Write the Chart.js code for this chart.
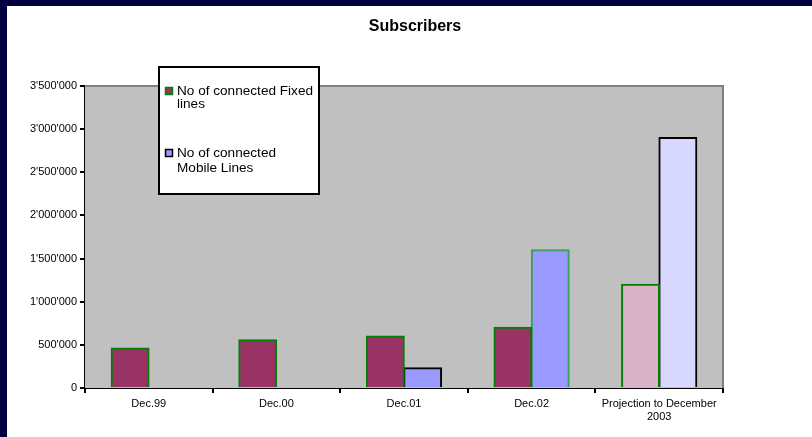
<!DOCTYPE html>
<html>
<head>
<meta charset="utf-8">
<script src="https://cdn.jsdelivr.net/npm/chart.js@4/dist/chart.umd.min.js"></script>
<style>
  html, body { margin: 0; padding: 0; background: #000040; width: 812px; height: 437px; overflow: hidden; }
  #wrap { position: absolute; left: 7px; top: 6px; width: 805px; height: 431px; background: #ffffff; }
</style>
</head>
<body>
<div id="wrap"><canvas id="c" width="805" height="431"></canvas></div>
<script>
const categories = ['Dec.99', 'Dec.00', 'Dec.01', 'Dec.02', ['Projection to December', '2003']];
const fixedLines = [460000, 555000, 600000, 700000, 1200000];
const mobileLines = [null, null, 230000, 1600000, 2900000];
const seriesNames = [['No of connected Fixed', 'lines'], ['No of connected', 'Mobile Lines']];
const chartTitle = 'Subscribers';

const FONT = '"Liberation Sans", Arial, sans-serif';
const fixedFill = ['#993366', '#993366', '#993366', '#993366', '#D8B2C6'];
const fixedBorder = ['#008000', '#008000', '#008000', '#008000', '#008000'];
const mobileFill = ['#9999FF', '#9999FF', '#9999FF', '#9999FF', '#D8D8FF'];
const mobileBorder = ['#000000', '#000000', '#000000', '#3A9E62', '#000000'];

const decor = {
  id: 'decor',
  beforeDatasetsDraw(chart) {
    const { ctx, chartArea: a } = chart;
    ctx.save();
    ctx.fillStyle = '#C0C0C0';
    ctx.fillRect(a.left, a.top, a.right - a.left, a.bottom - a.top);
    ctx.strokeStyle = '#808080';
    ctx.lineWidth = 2;
    ctx.beginPath();
    ctx.moveTo(a.left, a.top);
    ctx.lineTo(a.right, a.top);
    ctx.lineTo(a.right, a.bottom);
    ctx.stroke();
    ctx.restore();
  },
  afterDraw(chart) {
    const ctx = chart.ctx;
    ctx.save();
    // title
    ctx.fillStyle = '#000';
    ctx.font = 'bold 16px ' + FONT;
    ctx.textAlign = 'center';
    ctx.textBaseline = 'middle';
    ctx.fillText(chartTitle, 408, 21);
    // legend box
    ctx.fillStyle = '#fff';
    ctx.fillRect(151, 60, 162, 129);
    ctx.strokeStyle = '#000';
    ctx.lineWidth = 2;
    ctx.strokeRect(152, 61, 160, 127);
    const items = [
      { y: 85, gap: 13, fill: '#993366', border: '#008000', text: seriesNames[0] },
      { y: 147, gap: 15, fill: '#9999FF', border: '#000000', text: seriesNames[1] }
    ];
    ctx.font = '13.6px ' + FONT;
    ctx.textAlign = 'left';
    ctx.textBaseline = 'middle';
    items.forEach(it => {
      ctx.fillStyle = it.fill;
      ctx.fillRect(158, it.y - 4, 8, 8);
      ctx.strokeStyle = it.border;
      ctx.lineWidth = 1.5;
      ctx.strokeRect(158.5, it.y - 3.5, 7, 7);
      ctx.fillStyle = '#000';
      ctx.fillText(it.text[0], 170, it.y);
      ctx.fillText(it.text[1], 170, it.y + it.gap);
    });
    ctx.restore();
  }
};

new Chart(document.getElementById('c'), {
  type: 'bar',
  data: {
    labels: categories,
    datasets: [
      { label: 'Fixed', data: fixedLines, backgroundColor: fixedFill, borderColor: fixedBorder, borderWidth: 2,
        inflateAmount: 0.8, categoryPercentage: 0.585, barPercentage: 1.0 },
      { label: 'Mobile', data: mobileLines, backgroundColor: mobileFill, borderColor: mobileBorder, borderWidth: 2,
        inflateAmount: 0.8, categoryPercentage: 0.585, barPercentage: 1.0 }
    ]
  },
  options: {
    responsive: false,
    animation: false,
    layout: { padding: { left: 0, right: 89, top: 80, bottom: 0 } },
    plugins: { legend: { display: false }, title: { display: false }, tooltip: { enabled: false } },
    scales: {
      x: {
        grid: { display: true, drawOnChartArea: false, offset: true, tickLength: 5, color: '#000', lineWidth: 2 },
        border: { display: true, color: '#000', width: 2 },
        ticks: { color: '#000', font: { family: FONT, size: 11 }, padding: 4, maxRotation: 0, autoSkip: false },
        afterFit(s) { s.height = 49; }
      },
      y: {
        min: 0, max: 3500000,
        grid: { display: true, drawOnChartArea: false, tickLength: 5, color: '#000', lineWidth: 2 },
        border: { display: true, color: '#000', width: 2 },
        ticks: {
          stepSize: 500000, color: '#000', font: { family: FONT, size: 11 }, padding: 3,
          callback: v => v.toString().replace(/\B(?=(\d{3})+(?!\d))/g, "'")
        },
        afterFit(s) { s.width = 78; }
      }
    }
  },
  plugins: [decor]
});
</script>
</body>
</html>
